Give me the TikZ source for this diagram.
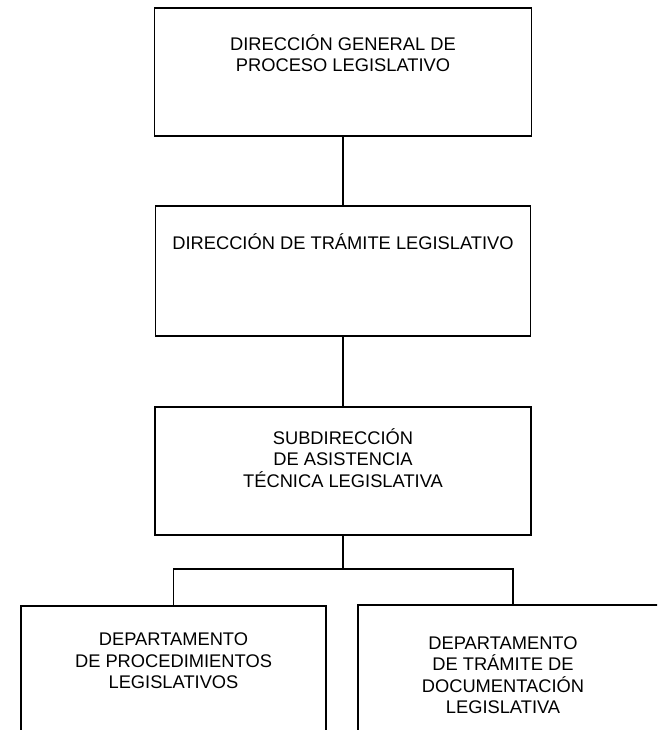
\documentclass[tikz,border=0pt]{standalone}
\usepackage{fontspec}
\setmainfont{Liberation Sans}
\begin{document}
\begin{tikzpicture}[x=1pt,y=-1pt,
  orgbox/.style={draw=black, line width=1.5pt, rectangle, inner sep=0pt},
  lbl/.style={align=center, inner sep=0pt, font=\fontsize{18.3}{21.5}\selectfont},
  conn/.style={draw=black, line width=1.6pt}]
\clip (0,0) rectangle (657,730);
\fill[white] (0,0) rectangle (657,730);
% boxes
\node[orgbox, minimum width=377pt, minimum height=128pt] (b1) at (343,72) {};
\node[orgbox, minimum width=375pt, minimum height=130pt] (b2) at (343,271) {};
\node[orgbox, minimum width=376pt, minimum height=128pt] (b3) at (343,471) {};
\node[orgbox, minimum width=305pt, minimum height=170pt] (b4) at (173.5,691) {};
\node[orgbox, minimum width=310pt, minimum height=170pt] (b5) at (513,690) {};
% texts
\node[lbl] (t1) at (343,53) {DIRECCIÓN GENERAL DE\\PROCESO LEGISLATIVO};
\node[lbl] (t2) at (343,242) {DIRECCIÓN DE TRÁMITE LEGISLATIVO};
\node[lbl] (t3) at (343,458) {SUBDIRECCIÓN\\DE ASISTENCIA\\TÉCNICA LEGISLATIVA};
\node[lbl] (t4) at (173.5,661) {DEPARTAMENTO\\DE PROCEDIMIENTOS\\LEGISLATIVOS};
\node[lbl] (t5) at (503,675) {DEPARTAMENTO\\DE TRÁMITE DE\\DOCUMENTACIÓN\\LEGISLATIVA};
% connectors
\coordinate (j) at (343,569);
\draw[conn] (b1.south) -- (b2.north);
\draw[conn] (b2.south) -- (b3.north);
\draw[conn] (b3.south) -- (j);
\draw[conn] (b4.north) |- (j) -| (b5.north);
\end{tikzpicture}
\end{document}
